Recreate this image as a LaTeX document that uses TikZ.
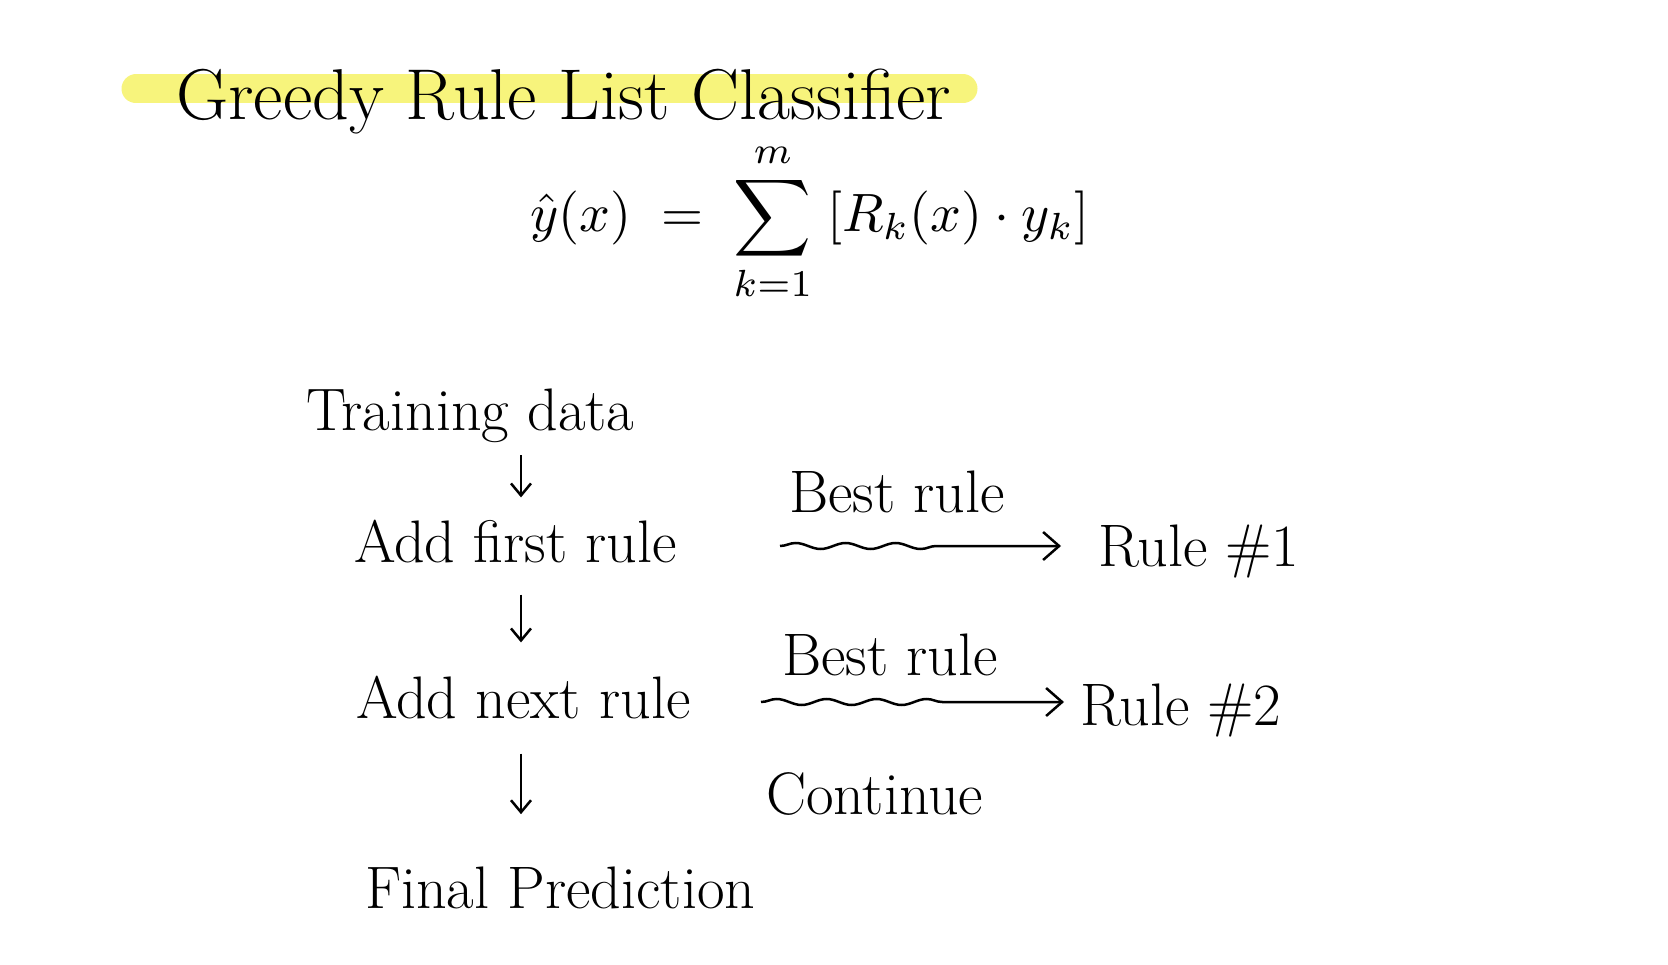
\RequirePackage{fix-cm}
\documentclass[tikz,border=0pt]{standalone}
\usepackage{amsmath}
\usepackage{fontspec}
\usetikzlibrary{arrows.meta}
\usetikzlibrary{decorations.pathmorphing}
\usetikzlibrary{positioning}
\usetikzlibrary{calc}
\definecolor{Marker}{RGB}{247,244,124}

\tikzset{
    step text/.style  = {anchor = base west, inner sep = 0pt, font = \fontsize{60}{62}\selectfont},
    down arrow/.style = {-{Straight Barb[length = 12pt, width = 20pt]}, line width = 2.5pt},
    wavy arrow/.style = {-{Straight Barb[length = 16pt, width = 28pt]}, line width = 2.5pt,
                         decorate, decoration = {snake, amplitude = 3pt, segment length = 50pt, post length = 110pt}}
}

\begin{document}
\begin{tikzpicture}[x = 1pt, y = -1pt]
    \useasboundingbox (0,0) rectangle (1668,965);

    % Draw the title and its marker:
    \draw [Marker, line width = 29pt, line cap = round] (136,89) -- (963,89);
    \node [anchor = base west, inner sep = 0pt, font = \fontsize{72}{76}\selectfont] (Title) at (176,120) {Greedy Rule List Classifier};

    % Draw the formula:
    \node [anchor = west, inner sep = 0pt] (Formula) at (530,222)
        {\scalebox{5.4}{$\displaystyle \hat{y}(x) \;=\; \sum_{k=1}^{m} \;[R_k(x)\cdot y_k]$}};

    % Draw the steps:
    \node [step text] (Training)  at (306,431) {Training data};
    \node [step text] (AddFirst)  at (354,562) {Add first rule};
    \node [step text] (AddNext)   at (356,718) {Add next rule};
    \node [step text] (Final)     at (365,908) {Final Prediction};
    \node [step text] (RuleOne)   at (1098,566) {Rule \#1};
    \node [step text] (RuleTwo)   at (1080,725) {Rule \#2};
    \node [step text] (BestOne)   at (789,512) {Best rule};
    \node [step text] (BestTwo)   at (782,675) {Best rule};
    \node [step text] (Continue)  at (766,814) {Continue};

    % Draw the arrows:
    \coordinate (Column) at (521,0);
    \draw [down arrow, shorten < = 12pt, shorten > = 22pt] (Training.south -| Column) -- (AddFirst.north -| Column);
    \draw [down arrow, shorten < = 32pt, shorten > = 33pt] (AddFirst.south -| Column) -- (AddNext.north -| Column);
    \draw [down arrow, shorten < = 35pt, shorten > = 52pt] (AddNext.south -| Column) -- (Final.north -| Column);

    \draw [wavy arrow] ($(BestOne.west |- AddFirst.base) + (-9,-16)$) -- ($(RuleOne.west |- AddFirst.base) + (-37,-16)$);
    \draw [wavy arrow] ($(BestTwo.west |- AddNext.base) + (-21,-16)$) -- ($(RuleTwo.west |- AddNext.base) + (-16,-16)$);
\end{tikzpicture}
\end{document}
